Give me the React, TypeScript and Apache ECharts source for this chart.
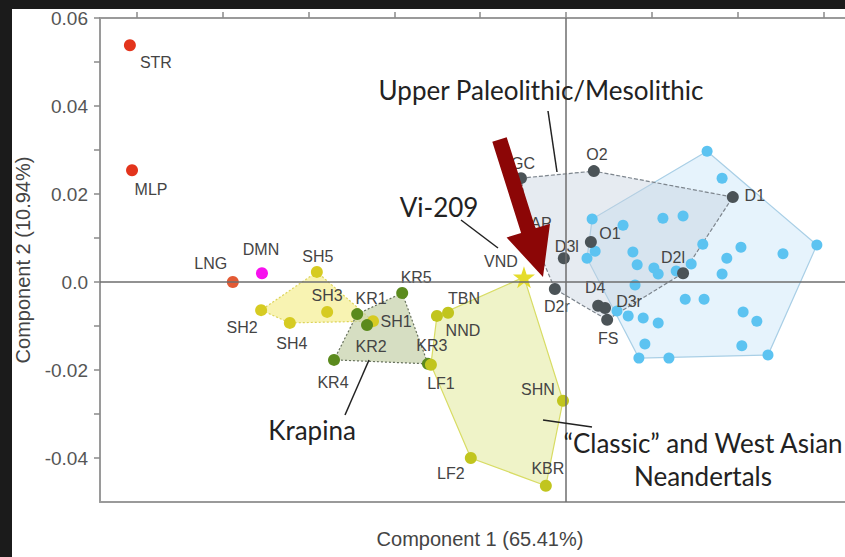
import React, { useEffect, useRef } from "react";
import * as echarts from "echarts";

// Panel placement inside the dark frame
const PANEL_X = 12;
const PANEL_Y = 9;
const PANEL_W = 833;
const PANEL_H = 548;

// Axis extents
const X_MIN = -0.10867;
const X_MAX = 0.06856;
const Y_MIN = -0.05;
const Y_MAX = 0.06;
const X_TICKS = [-0.1, -0.08, -0.06, -0.04, -0.02, 0, 0.02, 0.04, 0.06];
const Y_TICKS = [-0.04, -0.03, -0.02, -0.01, 0, 0.01, 0.02, 0.03, 0.04, 0.05, 0.06];
const Y_TICK_LABELS = [-0.04, -0.02, 0, 0.02, 0.04, 0.06];

// Specimens
const outlierNames = ["STR", "MLP"];
const outlierX = [-0.1017, -0.1012];
const outlierY = [0.0538, 0.0254];

const lngNames = ["LNG"];
const lngX = [-0.0777];
const lngY = [0.0];

const dmnNames = ["DMN"];
const dmnX = [-0.0709];
const dmnY = [0.002];

const simaNames = ["SH5", "SH2", "SH4", "SH3", "SH1"];
const simaX = [-0.0581, -0.0711, -0.0644, -0.0557, -0.045];
const simaY = [0.0023, -0.0064, -0.0093, -0.0068, -0.0089];

const krapinaNames = ["KR5", "KR1", "KR2", "KR4", "KR3"];
const krapinaX = [-0.0382, -0.0487, -0.0464, -0.0541, -0.0322];
const krapinaY = [-0.0025, -0.0073, -0.0098, -0.0177, -0.0186];

const classicNames = ["NND", "TBN", "LF1", "SHN", "KBR", "LF2"];
const classicX = [-0.0301, -0.0275, -0.0315, -0.0007, -0.0047, -0.0222];
const classicY = [-0.0077, -0.007, -0.0188, -0.027, -0.0463, -0.04];

const vindijaNames = ["VND"];
const vindijaX = [-0.0098];
const vindijaY = [0.0011];

const upperNames = ["GC", "AP", "O2", "D1", "O1", "D3l", "D2l", "D2r", "D4", "D3r", "FS"];
const upperX = [-0.0105, -0.0084, 0.0065, 0.0389, 0.0058, -0.0005, 0.0273, -0.0026, 0.0075, 0.0091, 0.0096];
const upperY = [0.0236, 0.0118, 0.0252, 0.0193, 0.0091, 0.0054, 0.002, -0.0016, -0.0054, -0.0059, -0.0086];

const modernX = [
  0.0329, 0.0364, 0.0061, 0.0133, 0.0226, 0.0273, 0.0319, 0.0408, 0.0506, 0.0585,
  0.0375, 0.0364, 0.0292, 0.0156, 0.0166, 0.0205, 0.0215, 0.0257, 0.0161, 0.0278,
  0.0322, 0.0413, 0.0445, 0.0119, 0.0145, 0.018, 0.0215, 0.0184, 0.041, 0.0471,
  0.017, 0.024, 0.0068, 0.0049,
];
const modernY = [
  0.0297, 0.0236, 0.0143, 0.0129, 0.0145, 0.015, 0.0086, 0.0079, 0.0064, 0.0084,
  0.0054, 0.0018, 0.0041, 0.0068, 0.0039, 0.0032, 0.0018, 0.0025, -0.0007, -0.0039,
  -0.0039, -0.0068, -0.0089, -0.0066, -0.0077, -0.0082, -0.0093, -0.0141, -0.0145, -0.0166,
  -0.0173, -0.0173, 0.007, 0.0054,
];

// Convex hull outlines (by specimen name, or by index for the modern sample)
const simaHull = ["SH5", "SH2", "SH4", "SH1"];
const krapinaHull = ["KR5", "KR1", "KR4", "KR3"];
const classicHull = ["NND", "VND", "SHN", "KBR", "LF2", "LF1"];
const upperHull = ["GC", "O2", "D1", "D2l", "FS", "D2r", "AP"];
const modernHull = [0, 9, 29, 30, 33, 2];

// Label offsets (px from the marker centre)
const labelOffsets: Record<string, [number, number]> = {
  STR: [26, 17], MLP: [19, 19], LNG: [-22, -19], DMN: [-1, -24],
  SH5: [1, -15], SH3: [0, -16], SH2: [-19, 17], SH4: [2, 21], SH1: [23, 0],
  KR1: [14, -16], KR5: [14, -16], KR2: [4, 21], KR3: [4, -18], KR4: [-1, 23],
  TBN: [16, -14], NND: [26, 15], LF1: [10, 19], SHN: [-25, -11], KBR: [2, -17], LF2: [-20, 15],
  VND: [-23, -16],
  GC: [2, -15], AP: [11, -7], O2: [3, -17], D1: [22, -2], O1: [19, -8], D3l: [3, -12],
  D2l: [-10, -16], D2r: [2, 17], D4: [-3, -18], D3r: [24, -6], FS: [1, 19],
};

const STAR =
  "path://M50,0 L61.8,35.4 L99,35.4 L69,57.3 L80.4,92.7 L50,70.8 L19.6,92.7 L31,57.3 L1,35.4 L38.2,35.4 Z";

const at = (x: number, y: number): [number, number] => [x - PANEL_X, y - PANEL_Y];

function pointSeries(
  names: string[],
  xs: number[],
  ys: number[],
  color: string,
  extra: Record<string, unknown> = {}
) {
  return {
    type: "scatter",
    z: 3,
    symbolSize: 12,
    itemStyle: { color, opacity: 1 },
    label: {
      show: true,
      position: "inside",
      formatter: (p: { name: string }) => p.name,
      color: "#444",
      fontSize: 16,
      fontFamily: "Liberation Sans, Arial, sans-serif",
      align: "center",
      verticalAlign: "middle",
    },
    data: names.map((n, i) => ({
      name: n,
      value: [xs[i], ys[i]],
      label: { offset: labelOffsets[n] || [0, 0] },
    })),
    ...extra,
  };
}

function hullSeries(points: number[][], fill: string, stroke: string, dash: number[] | null) {
  return {
    type: "custom",
    z: 1,
    silent: true,
    coordinateSystem: "cartesian2d",
    data: points,
    renderItem: (params: { dataIndex: number }, api: any) => {
      if (params.dataIndex !== 0) return null;
      return {
        type: "polygon",
        shape: { points: points.map((p) => api.coord(p)) },
        style: { fill, stroke, lineWidth: 1.2, lineDash: dash || undefined },
      };
    },
  };
}

export default function App() {
  const ref = useRef<HTMLDivElement>(null);

  useEffect(() => {
    if (!ref.current) return;
    const chart = echarts.init(ref.current, undefined, { renderer: "svg" });

    const lookup: Record<string, number[]> = {};
    const register = (names: string[], xs: number[], ys: number[]) =>
      names.forEach((n, i) => (lookup[n] = [xs[i], ys[i]]));
    register(simaNames, simaX, simaY);
    register(krapinaNames, krapinaX, krapinaY);
    register(classicNames, classicX, classicY);
    register(vindijaNames, vindijaX, vindijaY);
    register(upperNames, upperX, upperY);
    const byName = (names: string[]) => names.map((n) => lookup[n]);

    const axisLine = { show: true, onZero: false, lineStyle: { color: "#9a9a9a", width: 2 } };
    const textColor = "#444";

    const arrow = [
      [492.3, 141.8], [506.7, 137.2], [535.5, 228.3], [550.0, 223.7],
      [543, 277], [506.6, 237.5], [521.1, 232.9],
    ].map(([x, y]) => at(x, y));

    const annText = (text: string, cx: number, cy: number) => {
      const [x, y] = at(cx, cy);
      return {
        type: "text",
        x,
        y,
        z: 20,
        style: {
          text,
          fill: "#222",
          fontSize: 26,
          fontFamily: "Lato, 'Open Sans', sans-serif",
          align: "center",
          verticalAlign: "middle",
        },
      };
    };
    const leader = (x1: number, y1: number, x2: number, y2: number) => {
      const [a, b] = at(x1, y1);
      const [c, d] = at(x2, y2);
      return {
        type: "line",
        z: 20,
        shape: { x1: a, y1: b, x2: c, y2: d },
        style: { stroke: "#222", lineWidth: 1.5 },
      };
    };

    chart.setOption({
      animation: false,
      backgroundColor: "#ffffff",
      // plot frame runs on past the right edge of the panel
      grid: { left: 88, top: 9, width: 760, bottom: 55, outerBoundsMode: "none", containLabel: false },
      xAxis: [
        {
          type: "value",
          position: "bottom",
          min: X_MIN,
          max: X_MAX,
          axisLine,
          axisTick: { show: false },
          axisLabel: { show: false },
          splitLine: { show: false },
          name: "Component 1 (65.41%)",
          nameLocation: "middle",
          nameGap: 27,
          nameTextStyle: { color: textColor, fontSize: 20, fontFamily: "Liberation Sans, Arial, sans-serif" },
        },
        {
          type: "value",
          position: "top",
          min: X_MIN,
          max: X_MAX,
          axisLine,
          axisTick: { show: true, inside: false, length: 6, customValues: X_TICKS, lineStyle: { color: "#8a8a8a", width: 1.5 } },
          axisLabel: { show: false },
          splitLine: { show: false },
        },
      ],
      yAxis: {
        type: "value",
        min: Y_MIN,
        max: Y_MAX,
        axisLine,
        axisTick: { show: true, inside: false, length: 6, customValues: Y_TICKS, lineStyle: { color: "#8a8a8a", width: 1.5 } },
        axisLabel: {
          customValues: Y_TICK_LABELS,
          formatter: (v: number) => (Math.abs(v) < 1e-9 ? "0.0" : v.toFixed(2)),
          margin: 12,
          color: "#555",
          fontSize: 19,
          fontFamily: "Liberation Sans, Arial, sans-serif",
        },
        splitLine: { show: false },
        name: "Component 2 (10.94%)",
        nameLocation: "middle",
        nameGap: 67,
        nameTextStyle: { color: textColor, fontSize: 20, fontFamily: "Liberation Sans, Arial, sans-serif" },
      },
      series: [
        hullSeries(modernHull.map((i) => [modernX[i], modernY[i]]), "rgba(190,224,246,0.38)", "#a9cfe6", null),
        hullSeries(byName(upperHull), "rgba(196,208,222,0.42)", "#7d858d", [4, 2]),
        hullSeries(byName(simaHull), "rgba(244,236,130,0.62)", "#dcd35a", [2, 2]),
        hullSeries(byName(krapinaHull), "rgba(196,208,168,0.7)", "#66705c", [2, 2]),
        hullSeries(byName(classicHull), "rgba(232,238,176,0.7)", "#d8dc64", null),
        {
          type: "scatter",
          z: 2,
          silent: true,
          symbolSize: 0,
          data: [],
          markLine: {
            silent: true,
            symbol: ["none", "none"],
            label: { show: false },
            lineStyle: { color: "#6e6e6e", width: 1.5, type: "solid" },
            data: [{ xAxis: 0 }, { yAxis: 0 }],
          },
        },
        pointSeries(
          modernX.map(() => ""),
          modernX,
          modernY,
          "#5cc3f1",
          { symbolSize: 11, label: { show: false } }
        ),
        pointSeries(outlierNames, outlierX, outlierY, "#e3341c"),
        pointSeries(lngNames, lngX, lngY, "#e35a34"),
        pointSeries(dmnNames, dmnX, dmnY, "#f711ee"),
        pointSeries(simaNames, simaX, simaY, "#d6cb22"),
        pointSeries(krapinaNames, krapinaX, krapinaY, "#5b8a1d"),
        pointSeries(classicNames, classicX, classicY, "#c1c51e"),
        pointSeries(vindijaNames, vindijaX, vindijaY, "#e5dc2c", { symbol: STAR, symbolSize: 22 }),
        pointSeries(upperNames, upperX, upperY, "#4b5357"),
      ],
      graphic: [
        { type: "polygon", z: 30, shape: { points: arrow }, style: { fill: "#8c0606" } },
        annText("Upper Paleolithic/Mesolithic", 541, 90),
        leader(548, 111, 557, 172),
        annText("Vi-209", 439, 207),
        leader(461, 220, 498, 248),
        annText("Krapina", 312, 430),
        leader(369, 360, 345, 415),
        annText("\u201CClassic\u201D and West Asian", 703, 443),
        annText("Neandertals", 703, 476),
        leader(543, 420, 592, 427),
      ],
    });

    return () => chart.dispose();
  }, []);

  return (
    <div style={{ position: "absolute", left: 0, top: 0, width: 845, height: 557, background: "#1b1b1b", overflow: "hidden" }}>
      <div
        ref={ref}
        style={{ position: "absolute", left: PANEL_X, top: PANEL_Y, width: PANEL_W, height: PANEL_H, background: "#fff" }}
      />
    </div>
  );
}
